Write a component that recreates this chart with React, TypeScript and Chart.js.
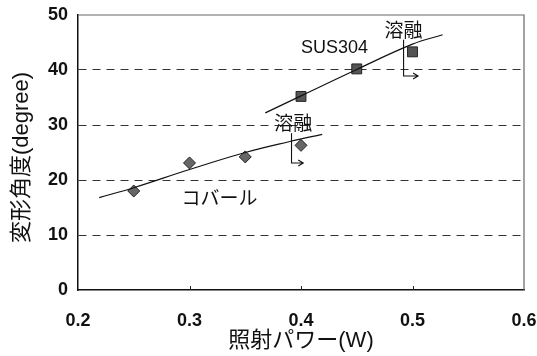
import React, { useEffect, useRef } from "react";
import { Chart, registerables } from "chart.js";

Chart.register(...registerables);

// Measured deformation angle (degree) vs irradiation power (W)
const kovarPower = [0.25, 0.3, 0.35, 0.4];
const kovarAngle = [18.0, 23.1, 24.2, 26.3];
const susPower = [0.4, 0.45, 0.5];
const susAngle = [35.2, 40.2, 43.3];

// Smoothed trend curves
const kovarFitPower = [0.219, 0.25, 0.3, 0.35, 0.39, 0.419];
const kovarFitAngle = [16.8, 18.6, 21.9, 25.0, 27.0, 28.3];
const susFitPower = [0.368, 0.4, 0.45, 0.5, 0.527];
const susFitAngle = [32.2, 35.3, 40.1, 44.7, 46.4];

const xTicks = [0.2, 0.3, 0.4, 0.5, 0.6];
const yTicks = [0, 10, 20, 30, 40, 50];

// Annotation anchors (data coordinates)
const labels = [
  { text: "SUS304", x: 0.43, y: 44.0 },
  { text: "コバール", x: 0.327, y: 16.4 },
  { text: "溶融", x: 0.492, y: 46.9 },
  { text: "溶融", x: 0.393, y: 30.0 },
];
// melt markers: vertical drop then arrow to the right
const meltArrows = [
  { x: 0.492, yTop: 45.5, yBottom: 38.9, xEnd: 0.505 },
  { x: 0.3915, yTop: 28.5, yBottom: 23.1, xEnd: 0.402 },
];

const pts = (xs: number[], ys: number[]) => xs.map((x, i) => ({ x, y: ys[i] }));

const FONT = "'Liberation Sans', 'Noto Sans CJK JP', sans-serif";

const decorPlugin = {
  id: "decor",
  afterDatasetsDraw(chart: any) {
    const { ctx, chartArea: a, scales } = chart;
    const xs = scales.x;
    const ys = scales.y;
    ctx.save();
    // top & right frame
    ctx.strokeStyle = "#666";
    ctx.lineWidth = 1.2;
    ctx.beginPath();
    ctx.moveTo(a.left, a.top);
    ctx.lineTo(a.right, a.top);
    ctx.lineTo(a.right, a.bottom);
    ctx.stroke();
    // small inner ticks on x axis
    ctx.strokeStyle = "#222";
    ctx.lineWidth = 1;
    for (const t of xTicks.slice(1, -1)) {
      const px = Math.round(xs.getPixelForValue(t)) + 0.5;
      ctx.beginPath();
      ctx.moveTo(px, a.bottom);
      ctx.lineTo(px, a.bottom - 4);
      ctx.stroke();
    }
    // text labels
    ctx.fillStyle = "#111";
    ctx.textAlign = "center";
    ctx.textBaseline = "middle";
    for (const l of labels) {
      ctx.font = `${l.text === "SUS304" ? 18 : 19}px ${FONT}`;
      ctx.fillText(l.text, xs.getPixelForValue(l.x), ys.getPixelForValue(l.y));
    }
    // melt arrows
    ctx.strokeStyle = "#111";
    ctx.lineWidth = 1.1;
    for (const m of meltArrows) {
      const x0 = xs.getPixelForValue(m.x);
      const y0 = ys.getPixelForValue(m.yTop);
      const y1 = ys.getPixelForValue(m.yBottom);
      const x1 = xs.getPixelForValue(m.xEnd);
      ctx.beginPath();
      ctx.moveTo(x0, y0);
      ctx.lineTo(x0, y1);
      ctx.lineTo(x1, y1);
      ctx.moveTo(x1 - 5, y1 - 3);
      ctx.lineTo(x1, y1);
      ctx.lineTo(x1 - 5, y1 + 3);
      ctx.stroke();
    }
    // axis titles
    ctx.font = `22px ${FONT}`;
    ctx.fillText("照射パワー(W)", (a.left + a.right) / 2, 341);
    ctx.translate(22, (a.top + a.bottom) / 2 + 5);
    ctx.rotate(-Math.PI / 2);
    ctx.fillText("変形角度(degree)", 0, 0);
    ctx.restore();
  },
};

export default function App() {
  const ref = useRef<HTMLCanvasElement>(null);

  useEffect(() => {
    if (!ref.current) return;
    const chart = new Chart(ref.current, {
      type: "scatter",
      data: {
        datasets: [
          {
            data: pts(kovarFitPower, kovarFitAngle),
            showLine: true,
            tension: 0.4,
            borderColor: "#111",
            borderWidth: 1.2,
            pointRadius: 0,
          },
          {
            data: pts(susFitPower, susFitAngle),
            showLine: true,
            tension: 0.4,
            borderColor: "#111",
            borderWidth: 1.2,
            pointRadius: 0,
          },
          {
            data: pts(kovarPower, kovarAngle),
            pointStyle: "rectRot",
            pointRadius: 6,
            backgroundColor: "#666",
            borderColor: "#222",
            borderWidth: 1,
          },
          {
            data: pts(susPower, susAngle),
            pointStyle: "rect",
            pointRadius: 7,
            backgroundColor: "#555",
            borderColor: "#222",
            borderWidth: 1,
          },
        ],
      },
      plugins: [decorPlugin],
      options: {
        animation: false,
        responsive: false,
        maintainAspectRatio: false,
        layout: { padding: { top: 15, right: 13, left: 0, bottom: 0 } },
        plugins: { legend: { display: false }, tooltip: { enabled: false } },
        scales: {
          x: {
            type: "linear",
            min: 0.2,
            max: 0.6,
            afterFit: (s: any) => {
              s.height = 66;
              s.paddingLeft = 0;
              s.paddingRight = 0;
            },
            afterBuildTicks: (s: any) => {
              s.ticks = xTicks.map((v) => ({ value: v }));
            },
            ticks: {
              color: "#111",
              padding: 12,
              maxRotation: 0,
              font: { family: FONT, size: 18, weight: "bold" },
              callback: (v: any) => Number(v).toFixed(1),
            },
            grid: { display: false },
            border: { display: true, color: "#111", width: 1.5 },
          },
          y: {
            min: 0,
            max: 50,
            afterFit: (s: any) => {
              s.width = 78;
              s.paddingTop = 0;
              s.paddingBottom = 0;
            },
            afterBuildTicks: (s: any) => {
              s.ticks = yTicks.map((v) => ({ value: v }));
            },
            ticks: {
              color: "#111",
              padding: 10,
              font: { family: FONT, size: 18, weight: "bold" },
            },
            grid: {
              drawTicks: false,
              lineWidth: 1,
              color: (c: any) =>
                c.tick && (c.tick.value === 0 || c.tick.value === 50) ? "rgba(0,0,0,0)" : "#333",
            },
            border: { display: true, color: "#111", width: 1.5, dash: [8, 6] },
          },
        },
      },
    } as any);
    return () => chart.destroy();
  }, []);

  return (
    <div style={{ position: "fixed", left: 0, top: 0, width: 537, height: 356, background: "#fff" }}>
      <canvas ref={ref} width={537} height={356} style={{ display: "block" }} />
    </div>
  );
}
